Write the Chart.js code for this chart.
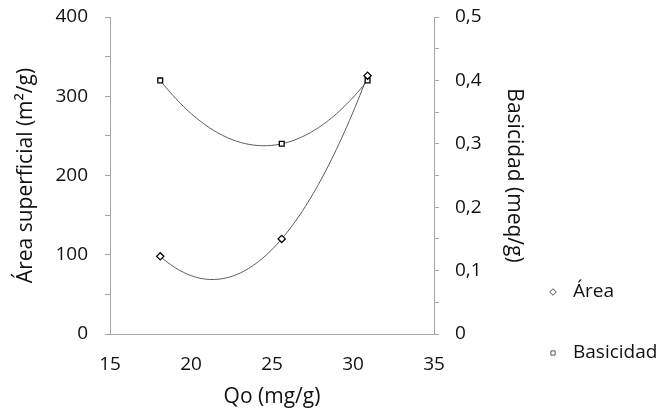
<!DOCTYPE html>
<html>
<head>
<meta charset="utf-8">
<script src="https://cdn.jsdelivr.net/npm/chart.js@4/dist/chart.umd.min.js"></script>
<style>
  html, body { margin: 0; padding: 0; background: #fff; }
  #wrap { width: 659px; height: 413px; }
</style>
</head>
<body>
<div id="wrap"><canvas id="grafico"></canvas></div>
<script>
// Datos
const qo = [18.1, 25.6, 30.9];          // Qo (mg/g)
const area = [98, 120, 326];            // Área superficial (m²/g)
const basicidad = [0.4, 0.3, 0.4];      // Basicidad (meq/g)
const qoTicks = [15, 20, 25, 30, 35];
const areaTicks = [0, 100, 200, 300, 400];
const basTicks = [0, 0.1, 0.2, 0.3, 0.4, 0.5];

const FONT = "'Open Sans', sans-serif";
const AXIS = '#a6a6a6';
const TXT = '#111';

// ajuste polinomico de grado 2 (linea de tendencia)
function fitQuad(xs, ys) {
    let s = [0, 0, 0, 0, 0], t = [0, 0, 0];
    xs.forEach((x, i) => {
        for (let k = 0; k < 5; k++) s[k] += Math.pow(x, k);
        for (let k = 0; k < 3; k++) t[k] += ys[i] * Math.pow(x, k);
    });
    const m = [[s[0], s[1], s[2], t[0]], [s[1], s[2], s[3], t[1]], [s[2], s[3], s[4], t[2]]];
    for (let i = 0; i < 3; i++) {
        for (let j = i + 1; j < 3; j++) {
            const f = m[j][i] / m[i][i];
            for (let k = i; k < 4; k++) m[j][k] -= f * m[i][k];
        }
    }
    const c = [0, 0, 0];
    for (let i = 2; i >= 0; i--) {
        let v = m[i][3];
        for (let k = i + 1; k < 3; k++) v -= m[i][k] * c[k];
        c[i] = v / m[i][i];
    }
    return x => c[0] + c[1] * x + c[2] * x * x;
}

const trendPlugin = {
    id: 'tendencia',
    beforeDatasetsDraw(chart) {
        const ctx = chart.ctx;
        const sx = chart.scales.x;
        chart.data.datasets.forEach(ds => {
            const xs = ds.data.map(p => p.x), ys = ds.data.map(p => p.y);
            const f = fitQuad(xs, ys);
            const sy = chart.scales[ds.yAxisID];
            const x0 = Math.min(...xs), x1 = Math.max(...xs);
            ctx.save();
            ctx.beginPath();
            for (let i = 0; i <= 80; i++) {
                const x = x0 + (x1 - x0) * i / 80;
                const px = sx.getPixelForValue(x), py = sy.getPixelForValue(f(x));
                if (i === 0) ctx.moveTo(px, py); else ctx.lineTo(px, py);
            }
            ctx.strokeStyle = '#5a5a5a';
            ctx.lineWidth = 1;
            ctx.stroke();
            ctx.restore();
        });
    }
};

const legendPlugin = {
    id: 'leyenda',
    afterDraw(chart) {
        const ctx = chart.ctx;
        const a = chart.chartArea;
        chart.data.datasets.forEach((ds, i) => {
            const y = a.bottom - 42 + i * 61;
            const x = a.right + 119;
            ctx.save();
            ctx.strokeStyle = '#555';
            ctx.fillStyle = '#fff';
            Chart.helpers.drawPoint(ctx, {
                pointStyle: ds.pointStyle,
                radius: ds.pointStyle === 'rect' ? 3 : 3.3,
                rotation: 0,
                borderWidth: 1
            }, x, y);
            ctx.fillStyle = TXT;
            ctx.font = '19px ' + FONT;
            ctx.textBaseline = 'middle';
            ctx.fillText(ds.label, x + 20, y);
            ctx.restore();
        });
    }
};

// sin relleno extra de las etiquetas en los extremos de los ejes
const noPad = s => { s.paddingTop = 0; s.paddingBottom = 0; s.paddingLeft = 0; s.paddingRight = 0; };

const datos = {
    datasets: [{
        label: 'Área',
        data: qo.map((x, i) => ({ x: x, y: area[i] })),
        yAxisID: 'y',
        pointStyle: 'rectRot',
        pointRadius: 3.6,
        borderColor: '#000',
        backgroundColor: '#fff',
        borderWidth: 1.3,
        showLine: false
    }, {
        label: 'Basicidad',
        data: qo.map((x, i) => ({ x: x, y: basicidad[i] })),
        yAxisID: 'y1',
        pointStyle: 'rect',
        pointRadius: 3.4,
        borderColor: '#000',
        backgroundColor: '#fff',
        borderWidth: 1.3,
        showLine: false
    }]
};

const config = {
    type: 'scatter',
    data: datos,
    plugins: [trendPlugin, legendPlugin],
    options: {
        responsive: true,
        maintainAspectRatio: false,
        animation: false,
        layout: { padding: { left: 0, top: 17, right: 125, bottom: 0 } },
        plugins: { legend: { display: false }, tooltip: { enabled: false } },
        scales: {
            x: {
                type: 'linear',
                min: qoTicks[0],
                max: qoTicks[qoTicks.length - 1],
                afterBuildTicks: s => { s.ticks = qoTicks.map(v => ({ value: v })); },
                afterFit: s => { s.height = 79; noPad(s); },
                grid: { display: false, drawTicks: false },
                border: { display: true, color: AXIS, width: 1 },
                ticks: { color: TXT, padding: 19, font: { family: FONT, size: 19 } },
                title: {
                    display: true, text: 'Qo (mg/g)', color: TXT,
                    font: { family: FONT, size: 21 }, padding: { top: 3, bottom: 3 }
                }
            },
            y: {
                type: 'linear',
                position: 'left',
                min: areaTicks[0],
                max: areaTicks[areaTicks.length - 1],
                afterFit: s => { s.width = 110; noPad(s); },
                ticks: {
                    stepSize: 50,
                    color: TXT,
                    padding: 17,
                    font: { family: FONT, size: 19 },
                    callback: v => (areaTicks.includes(v) ? String(v) : '')
                },
                grid: { drawOnChartArea: false, drawTicks: true, tickLength: 5, color: AXIS },
                border: { display: true, color: AXIS, width: 1 },
                title: {
                    display: true, text: 'Área superficial (m²/g)', color: TXT,
                    font: { family: FONT, size: 21 }, padding: { top: 13, bottom: 13 }
                }
            },
            y1: {
                type: 'linear',
                position: 'right',
                min: basTicks[0],
                max: basTicks[basTicks.length - 1],
                afterFit: s => { s.width = 100; noPad(s); },
                ticks: {
                    stepSize: 0.05,
                    color: TXT,
                    padding: 16,
                    font: { family: FONT, size: 19 },
                    callback: v => {
                        const r = Math.round(v * 100) / 100;
                        if (!basTicks.some(t => Math.abs(t - r) < 1e-9)) return '';
                        return r === 0 ? '0' : r.toFixed(1).replace('.', ',');
                    }
                },
                grid: { drawOnChartArea: false, drawTicks: true, tickLength: 5, color: AXIS },
                border: { display: true, color: AXIS, width: 1 },
                title: {
                    display: true, text: 'Basicidad (meq/g)', color: TXT,
                    font: { family: FONT, size: 21 }, padding: { top: 7, bottom: 7 }
                }
            }
        }
    }
};

window.addEventListener('DOMContentLoaded', () => {
    const lienzo = document.getElementById('grafico').getContext('2d');
    new Chart(lienzo, config);
});
</script>
</body>
</html>
